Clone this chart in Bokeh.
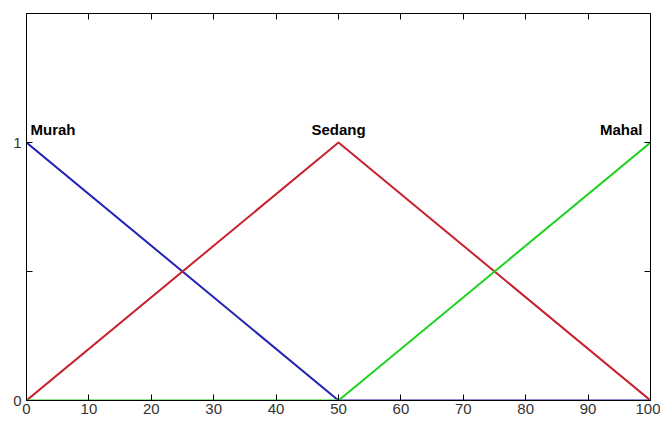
from bokeh.plotting import figure
from bokeh.models import LinearAxis, FixedTicker, Range1d
from bokeh.core.properties import value
from bokeh.embed import file_html
from bokeh.resources import INLINE

# Data
x_points = [0, 50, 100]
murah = [1, 0, 0]
sedang = [0, 1, 0]
mahal = [0, 0, 1]

label_names = ["Murah", "Sedang", "Mahal"]
label_x = [0, 50, 100]
label_y = [1, 1, 1]

x_ticks = [0, 10, 20, 30, 40, 50, 60, 70, 80, 90, 100]
y_ticks = [0, 0.5, 1]
y_tick_labels = {0: "0", 0.5: "", 1: "1"}

p = figure(width=660, height=420, output_backend="svg", toolbar_location=None,
           x_range=Range1d(0, 100), y_range=Range1d(0, 1.5),
           x_axis_location=None, y_axis_location=None,
           min_border=0, min_border_left=26, min_border_top=13,
           min_border_right=10, min_border_bottom=20)
p.xgrid.visible = False
p.ygrid.visible = False
p.outline_line_color = "black"
p.outline_line_width = 1
p.background_fill_color = "white"

TICK_FONT = "Liberation Sans"

def style_axis(ax, labels=True):
    ax.axis_line_color = "black"
    ax.axis_line_width = 1
    ax.major_tick_in = 6
    ax.major_tick_out = 0
    ax.major_tick_line_color = "black"
    ax.minor_tick_line_color = None
    ax.major_label_text_font = TICK_FONT
    ax.major_label_text_color = "#333333"
    ax.major_label_text_font_size = "15px"
    ax.major_label_standoff = 3

xb = LinearAxis(ticker=FixedTicker(ticks=x_ticks))
style_axis(xb)
xb.major_label_standoff = 3
p.add_layout(xb, "below")

xt = LinearAxis(ticker=FixedTicker(ticks=x_ticks),
                major_label_overrides={t: "" for t in x_ticks})
style_axis(xt, labels=False)
xt.major_label_standoff = 0
p.add_layout(xt, "above")

yl = LinearAxis(ticker=FixedTicker(ticks=y_ticks), major_label_overrides=y_tick_labels)
style_axis(yl)
yl.major_label_standoff = 5
p.add_layout(yl, "left")

yr = LinearAxis(ticker=FixedTicker(ticks=y_ticks),
                major_label_overrides={t: "" for t in y_ticks})
style_axis(yr, labels=False)
yr.major_label_standoff = 0
p.add_layout(yr, "right")

p.line(x_points, murah, line_color="#2323b4", line_width=2)
p.line(x_points, sedang, line_color="#c8232d", line_width=2)
p.line(x_points, mahal, line_color="#1fd21f", line_width=2)

offsets = [(4, "left"), (0, "center"), (-8, "right")]
for i, (dx, align) in enumerate(offsets):
    p.text(x=[label_x[i]], y=[label_y[i]], text=[label_names[i]],
           text_font=value("Liberation Sans"), text_font_style="bold",
           text_font_size="15px", text_color="black",
           text_align=align, text_baseline="bottom",
           x_offset=dx, y_offset=-5)

open("out.html", "w").write(file_html(p, INLINE))
